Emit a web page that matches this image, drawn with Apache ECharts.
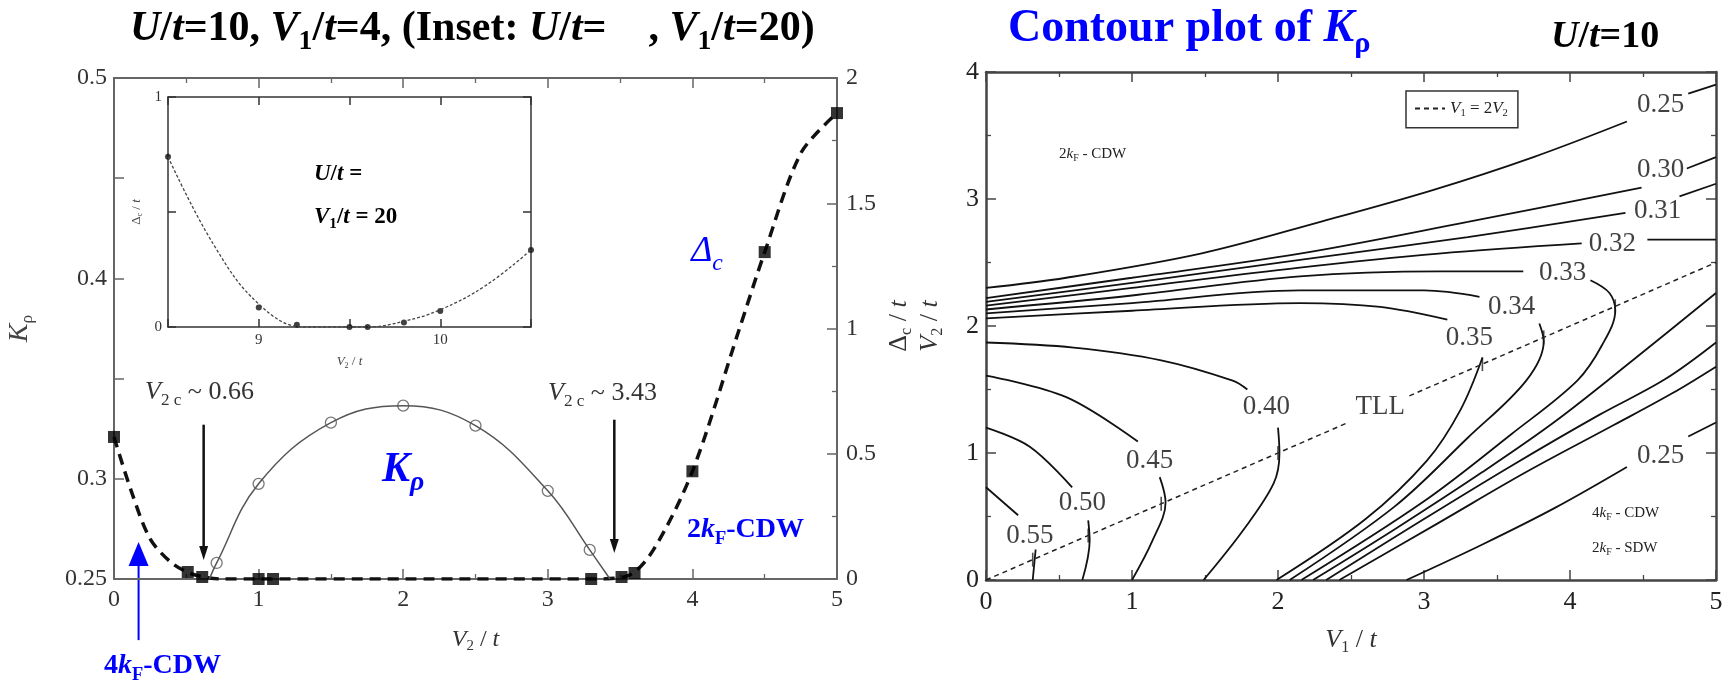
<!DOCTYPE html>
<html>
<head>
<meta charset="utf-8">
<title>K_rho and Delta_c</title>
<script src="https://cdn.jsdelivr.net/npm/echarts@6.0.0/dist/echarts.min.js"></script>
<style>
  html, body { margin: 0; padding: 0; background: #fff; }
  #main { width: 1725px; height: 685px; }
</style>
</head>
<body>
<div id="main"></div>
<script>
// ---------- left panel: U/t=10, V1/t=4, scan in V2/t ----------
const kRhoTicks = [0.25, 0.3, 0.4, 0.5];          // labelled ticks of the K_rho axis
const gapSquares = [[0, 0.567], [0.51, 0.028], [0.61, 0.008], [1.0, 0], [1.1, 0], [3.3, 0],
  [3.51, 0.008], [3.6, 0.024], [4.0, 0.43], [4.5, 1.305], [5.0, 1.86]];
// dashed guide through the charge gap
const gapCurve = [[0, 0.567], [0.12, 0.35], [0.25, 0.16], [0.4, 0.064], [0.55, 0.018], [0.75, 0],
  [1.0, 0], [2.0, 0], [3.3, 0], [3.55, 0.012], [3.73, 0.116], [4.0, 0.43],
  [4.32, 0.99], [4.5, 1.305], [4.75, 1.70], [5.0, 1.86]];
const kRhoCircles = [[0.71, 0.258], [1.0, 0.2975], [1.5, 0.328], [2.0, 0.3365], [2.5, 0.3265],
  [3.0, 0.294], [3.29, 0.2645]];
const kRhoEnds = [[0.66, 0.25], [3.43, 0.25]];      // where the K_rho curve meets the axis

// inset: U/t=?, V1/t=20
const insetXTicks = [9, 10];
const insetYTicks = [0, 1];
const insetGap = [[8.5, 0.74], [9.0, 0.085], [9.21, 0.01], [9.5, 0], [9.6, 0], [9.8, 0.02],
  [10.0, 0.07], [10.5, 0.335]];
const insetCurve = [[8.5, 0.74], [8.75, 0.36], [9.0, 0.1], [9.25, 0], [9.6, 0], [9.8, 0.025],
  [10.0, 0.075], [10.25, 0.18], [10.5, 0.335]];

// annotation arrows (data coordinates of the left panel, K_rho axis)
const arrowA = [[0.62, 0.327], [0.62, 0.2595]];
const arrowB = [[3.46, 0.3295], [3.46, 0.263]];
const arrowBlue = [[0.17, 0.2195], [0.17, 0.2685]];

// ---------- right panel: contour plot of K_rho in (V1/t, V2/t) ----------
const k025a = [[0, 2.30], [0.55, 2.38], [1.47, 2.57], [2.29, 2.82], [3.06, 3.07], [3.75, 3.33], [4.39, 3.61]];
const k025b = [[4.81, 3.83], [5, 3.90]];
const k030a = [[0, 2.22], [1, 2.38], [2.15, 2.57], [3.3, 2.82], [4.49, 3.09]];
const k030b = [[4.8, 3.24], [5, 3.33]];
const k031a = [[0, 2.19], [1, 2.34], [2.15, 2.52], [3.3, 2.7], [4.38, 2.89]];
const k031b = [[4.75, 3.02], [5, 3.12]];
const k032a = [[0, 2.16], [1, 2.30], [2.15, 2.46], [3.1, 2.57], [4.08, 2.65]];
const k032b = [[4.53, 2.68], [5, 2.68]];
const k033a = [[0, 2.13], [1, 2.24], [2.15, 2.39], [3.11, 2.43], [3.68, 2.43]];
const k033b = [[4.14, 2.36], [4.27, 2.26], [4.31, 2.12], [4.22, 1.85], [4.05, 1.57], [3.6, 1.15], [3.0, 0.62], [2.16, 0]];
const k034a = [[0, 2.10], [1, 2.18], [2.15, 2.28], [3.0, 2.28], [3.38, 2.23]];
const k034b = [[3.79, 2.02], [3.82, 1.88], [3.70, 1.57], [3.3, 1.12], [2.8, 0.58], [2.08, 0]];
const k035a = [[0, 2.06], [1, 2.12], [2.15, 2.18], [2.7, 2.15], [3.16, 2.05]];
const k035b = [[3.40, 1.75], [3.25, 1.34], [3.02, 0.94], [2.6, 0.48], [1.99, 0]];
const k032c = [[2.24, 0], [2.8, 0.4], [3.4, 0.85], [3.9, 1.25], [4.43, 1.73], [5, 2.26]];
const k031c = [[2.33, 0], [3.0, 0.48], [3.6, 0.9], [4.2, 1.3], [4.65, 1.58], [5, 1.87]];
const k030c = [[2.42, 0], [3.1, 0.45], [3.7, 0.85], [4.3, 1.22], [4.7, 1.47], [5, 1.68]];
const k025c = [[2.88, 0], [3.4, 0.28], [3.9, 0.57], [4.39, 0.89]];
const k025d = [[4.81, 1.13], [5, 1.24]];
const k040a = [[0, 1.87], [0.6, 1.83], [1.2, 1.73], [1.69, 1.57], [1.79, 1.50]];
const k040b = [[2.0, 1.20], [2.01, 1.0], [1.97, 0.76], [1.76, 0.39], [1.49, 0]];
const k045a = [[0, 1.61], [0.55, 1.44], [1.04, 1.09]];
const k045b = [[1.19, 0.81], [1.23, 0.61], [1.14, 0.31], [1.0, 0]];
const k050a = [[0, 1.20], [0.3, 1.05], [0.59, 0.73]];
const k050b = [[0.70, 0.47], [0.71, 0.31], [0.66, 0]];
const k055a = [[0, 0.73], [0.22, 0.51]];
const k055b = [[0.34, 0.24], [0.32, 0]];
const contourLabels = [[4.62, 3.74, '0.25'], [4.62, 3.23, '0.30'], [4.6, 2.91, '0.31'], [4.29, 2.65, '0.32'],
  [3.95, 2.42, '0.33'], [3.6, 2.15, '0.34'], [3.31, 1.91, '0.35'], [1.92, 1.36, '0.40'], [1.12, 0.94, '0.45'],
  [0.66, 0.61, '0.50'], [0.30, 0.35, '0.55'], [4.62, 0.98, '0.25'], [2.7, 1.36, 'TLL']];
const tllLine = [[[0, 0], [2.47, 1.235]], [[2.9, 1.45], [5, 2.5]]];   // V1 = 2 V2
const tllMarks = [[0.32, 0.16], [0.70, 0.35], [1.2, 0.6], [2.0, 1.0], [3.4, 1.7], [3.82, 1.91], [4.31, 2.155]];

const contours = [k025a, k025b, k030a, k030b, k031a, k031b, k032a, k032b, k033a, k033b, k034a, k034b,
  k035a, k035b, k032c, k031c, k030c, k025c, k025d, k040a, k040b, k045a, k045b, k050a, k050b, k055a, k055b];

const serif = "'Liberation Serif', 'Times New Roman', serif";
const blue = '#0000ff';

const chart = echarts.init(document.getElementById('main'));

function axis(o) {
  const c = o.color || '#666';
  const tick = o.tick || 10;
  return {
    type: 'value', gridIndex: o.grid, position: o.pos, min: o.min, max: o.max, interval: o.step,
    name: o.name || '', nameLocation: 'middle', nameGap: o.nameGap || 0, nameRotate: o.nameRotate || 0,
    nameTextStyle: o.nameStyle || {},
    splitLine: { show: false },
    axisLine: { show: true, onZero: false, lineStyle: { color: c, width: o.lw || 2 } },
    axisTick: { show: true, inside: true, length: tick, lineStyle: { color: c, width: 1.5 } },
    minorTick: { show: o.minor !== false, splitNumber: 2, length: tick / 2, lineStyle: { color: c, width: 1.3 } },
    axisLabel: {
      show: !!o.labels, margin: o.margin || 8, fontFamily: serif, fontSize: o.fs || 24,
      color: o.labelColor || '#333', showMinLabel: true, showMaxLabel: true,
      formatter: o.fmt || (v => String(v))
    }
  };
}

function nameRich(size, color) {
  return {
    v: { fontFamily: serif, fontStyle: 'italic', fontSize: size, color: color, lineHeight: size * 1.2 },
    n: { fontFamily: serif, fontSize: size, color: color, lineHeight: size * 1.2 },
    s: { fontFamily: serif, fontSize: size * 0.62, color: color, lineHeight: size * 0.62, verticalAlign: 'bottom' }
  };
}

const pick = (list) => (v => list.some(t => Math.abs(t - v) < 1e-6) ? String(+v.toFixed(2)) : '');

const xAxis = [
  axis({ grid: 0, pos: 'bottom', min: 0, max: 5, step: 1, labels: true, margin: 9,
    name: '{v|V}{s|2}{n| / }{v|t}', nameGap: 46, nameStyle: { rich: nameRich(24, '#333') } }),
  axis({ grid: 0, pos: 'top', min: 0, max: 5, step: 1 }),
  axis({ grid: 1, pos: 'bottom', min: 8.5, max: 10.5, step: 0.5, minor: false, labels: true, fs: 15,
    margin: 6, color: '#333', lw: 1.5, tick: 8, fmt: pick(insetXTicks),
    name: '{v|V}{s|2}{n| / }{v|t}', nameGap: 27, nameStyle: { rich: nameRich(13, '#444') } }),
  axis({ grid: 1, pos: 'top', min: 8.5, max: 10.5, step: 0.5, minor: false, color: '#333', lw: 1.5, tick: 8 }),
  axis({ grid: 2, pos: 'bottom', min: 0, max: 5, step: 1, labels: true, fs: 26, margin: 9, color: '#444',
    lw: 2.5, labelColor: '#222',
    name: '{v|V}{s|1}{n| / }{v|t}', nameGap: 45, nameStyle: { rich: nameRich(26, '#333') } }),
  axis({ grid: 2, pos: 'top', min: 0, max: 5, step: 1, color: '#444', lw: 2.5 })
];

const yAxis = [
  axis({ grid: 0, pos: 'left', min: 0.25, max: 0.5, step: 0.05, minor: false, labels: true, margin: 7,
    fmt: pick(kRhoTicks), name: '{v|K}{s|ρ}', nameGap: 78, nameRotate: 90,
    nameStyle: { rich: nameRich(28, '#444') } }),
  axis({ grid: 0, pos: 'right', min: 0, max: 2, step: 0.5, labels: true, margin: 9 }),
  axis({ grid: 1, pos: 'left', min: 0, max: 1, step: 0.5, minor: false, labels: true, fs: 15, margin: 6,
    color: '#333', lw: 1.5, tick: 8, fmt: pick(insetYTicks),
    name: '{n|Δ}{s|c}{n| / }{v|t}', nameGap: 24, nameRotate: 90, nameStyle: { rich: nameRich(13, '#444') } }),
  axis({ grid: 1, pos: 'right', min: 0, max: 1, step: 0.5, minor: false, color: '#333', lw: 1.5, tick: 8 }),
  axis({ grid: 2, pos: 'left', min: 0, max: 4, step: 1, labels: true, fs: 26, margin: 7, color: '#444',
    lw: 2.5, labelColor: '#222',
    name: '{n|Δ}{s|c}{n| / }{v|t}\n{v|V}{s|2}{n| / }{v|t}', nameGap: 40, nameRotate: 90,
    nameStyle: { rich: nameRich(26, '#333') } }),
  axis({ grid: 2, pos: 'right', min: 0, max: 4, step: 1, color: '#444', lw: 2.5 })
];

const series = [
  { type: 'line', name: 'gap', xAxisIndex: 0, yAxisIndex: 1, data: gapCurve, smooth: 0.3,
    symbol: 'none', lineStyle: { color: '#111', width: 3.5, type: [11, 7] }, z: 3 },
  { type: 'scatter', xAxisIndex: 0, yAxisIndex: 1, data: gapSquares, symbol: 'rect', symbolSize: 12,
    itemStyle: { color: '#000' }, z: 5 },
  { type: 'line', xAxisIndex: 0, yAxisIndex: 0, data: [kRhoEnds[0], ...kRhoCircles, kRhoEnds[1]],
    smooth: 0.4, symbol: 'none', lineStyle: { color: '#555', width: 1.5 } },
  { type: 'scatter', xAxisIndex: 0, yAxisIndex: 0, data: kRhoCircles, symbol: 'circle', symbolSize: 11,
    itemStyle: { color: 'rgba(255,255,255,0)', borderColor: '#555', borderWidth: 1.3 }, z: 4 },
  { type: 'line', xAxisIndex: 2, yAxisIndex: 2, data: insetCurve, smooth: 0.4,
    symbol: 'none', lineStyle: { color: '#444', width: 1.3, type: [3, 2] } },
  { type: 'scatter', xAxisIndex: 2, yAxisIndex: 2, data: insetGap, symbol: 'circle', symbolSize: 6,
    itemStyle: { color: '#111' } },
  ...contours.map(d => ({ type: 'line', xAxisIndex: 4, yAxisIndex: 4, data: d, smooth: 0.35,
    symbol: 'none', lineStyle: { color: '#111', width: 1.8 } })),
  ...tllLine.map(d => ({ type: 'line', name: 'V1 = 2V2', xAxisIndex: 4, yAxisIndex: 4, data: d,
    symbol: 'none', lineStyle: { color: '#222', width: 1.5, type: [5, 4] } })),
  { type: 'scatter', xAxisIndex: 4, yAxisIndex: 4, data: tllMarks, symbol: 'rect', symbolSize: [1.6, 14],
    itemStyle: { color: '#222' } },
  { type: 'scatter', xAxisIndex: 4, yAxisIndex: 4, data: contourLabels, symbolSize: 1,
    itemStyle: { color: 'rgba(0,0,0,0)' }, z: 6,
    label: { show: true, position: 'inside', formatter: p => p.value[2], fontFamily: serif, fontSize: 27,
      color: '#111' } }
];

const option = {
  animation: false,
  backgroundColor: '#fff',
  grid: [
    { left: 114, top: 78, width: 723, height: 501, outerBoundsMode: 'none' },
    { left: 168, top: 97, width: 363, height: 230, outerBoundsMode: 'none' },
    { left: 986, top: 72, width: 730, height: 508, outerBoundsMode: 'none' }
  ],
  legend: {
    left: 1406, top: 91, padding: [9, 10, 9, 8], itemWidth: 30, itemHeight: 10, itemGap: 0,
    borderColor: '#333', borderWidth: 1.5, borderRadius: 0, backgroundColor: '#fff', selectedMode: false,
    itemStyle: { opacity: 0 },
    data: ['V1 = 2V2'],
    formatter: () => '{v|V}{s|1}{n| = 2}{v|V}{s|2}',
    textStyle: { rich: nameRich(17, '#222') }
  },
  xAxis: xAxis,
  yAxis: yAxis,
  series: series
};
chart.setOption(option);

// ---------- annotations ----------
const px = (xi, yi, pt) => chart.convertToPixel({ xAxisIndex: xi, yAxisIndex: yi }, pt);

function arrow(a, b, color, lw, headW, headL) {
  const dir = b[1] > a[1] ? 1 : -1;
  return [
    { type: 'line', shape: { x1: a[0], y1: a[1], x2: b[0], y2: b[1] - dir * headL * 0.8 },
      style: { stroke: color, lineWidth: lw } },
    { type: 'polygon', shape: { points: [[b[0], b[1]], [b[0] - headW / 2, b[1] - dir * headL], [b[0] + headW / 2, b[1] - dir * headL]] },
      style: { fill: color } }
  ];
}

function richSet(size, fill, bold) {
  const w = bold ? 'bold' : 'normal';
  return {
    n: { fontFamily: serif, fontWeight: w, fontSize: size, fill: fill, lineHeight: size * 1.3 },
    i: { fontFamily: serif, fontWeight: w, fontStyle: 'italic', fontSize: size, fill: fill, lineHeight: size * 1.3 },
    s: { fontFamily: serif, fontWeight: w, fontSize: size * 0.66, fill: fill, lineHeight: size * 0.66, verticalAlign: 'bottom' },
    si: { fontFamily: serif, fontWeight: w, fontStyle: 'italic', fontSize: size * 0.66, fill: fill, lineHeight: size * 0.66, verticalAlign: 'bottom' }
  };
}

function txt(x, y, text, rich, align) {
  return { type: 'text', x: x, y: y, z: 10,
    style: { text: text, rich: rich, align: align || 'left', verticalAlign: 'middle' } };
}

const g = [];
g.push(...arrow(px(0, 0, arrowA[0]), px(0, 0, arrowA[1]), '#111', 2.5, 9, 14));
g.push(...arrow(px(0, 0, arrowB[0]), px(0, 0, arrowB[1]), '#111', 2.5, 9, 14));
g.push(...arrow(px(0, 0, arrowBlue[0]), px(0, 0, arrowBlue[1]), blue, 2, 20, 24));

g.push(txt(130, 29, '{i|U}{n|/}{i|t}{n|=10, }{i|V}{s|1}{n|/}{i|t}{n|=4, (Inset: }{i|U}{n|/}{i|t}{n|=    , }{i|V}{s|1}{n|/}{i|t}{n|=20)}',
  richSet(42, '#000', true)));
g.push(txt(1008, 29, '{n|Contour plot of }{i|K}{s|ρ}', richSet(46, blue, true)));
g.push(txt(1551, 37, '{i|U}{n|/}{i|t}{n|=10}', richSet(38, '#000', true)));

g.push(txt(707, 252, '{i|Δ}{si|c}', richSet(36, blue, false), 'center'));
g.push(txt(382, 470, '{i|K}{si|ρ}', richSet(42, blue, true)));
g.push(txt(687, 530, '{n|2}{i|k}{s|F}{n|-CDW}', richSet(28, blue, true)));
g.push(txt(104, 666, '{n|4}{i|k}{s|F}{n|-CDW}', richSet(28, blue, true)));
g.push(txt(145, 392, '{i|V}{s|2 c}{n| ~ 0.66}', richSet(26, '#333', false)));
g.push(txt(548, 393, '{i|V}{s|2 c}{n| ~ 3.43}', richSet(26, '#333', false)));
g.push(txt(314, 174, '{i|U}{n|/}{i|t}{n| =}', richSet(23, '#000', true)));
g.push(txt(314, 217, '{i|V}{s|1}{n|/}{i|t}{n| = 20}', richSet(23, '#000', true)));

g.push(txt(1059, 154, '{n|2}{i|k}{s|F}{n| - CDW}', richSet(15, '#222', false)));
g.push(txt(1592, 513, '{n|4}{i|k}{s|F}{n| - CDW}', richSet(15, '#222', false)));
g.push(txt(1592, 548, '{n|2}{i|k}{s|F}{n| - SDW}', richSet(15, '#222', false)));

chart.setOption({ graphic: g });
</script>
</body>
</html>
